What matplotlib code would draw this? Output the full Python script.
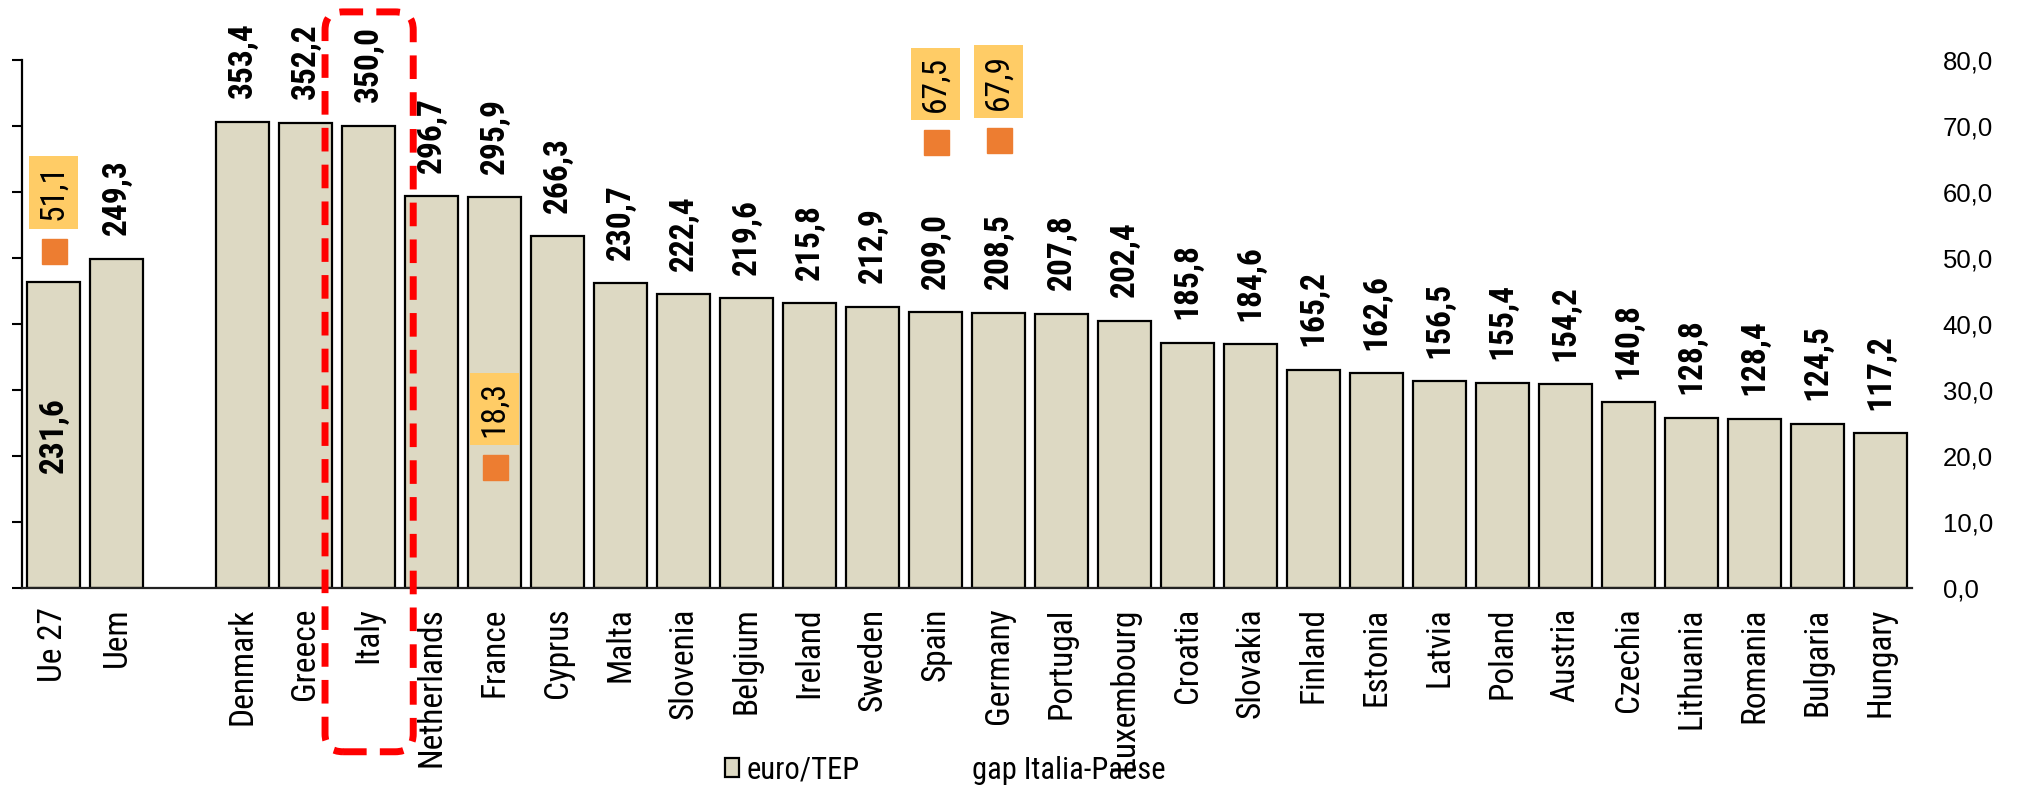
import matplotlib
matplotlib.use('Agg')
import matplotlib.pyplot as plt
import numpy as np
from matplotlib.patches import FancyBboxPatch, Patch
from matplotlib.lines import Line2D
from matplotlib.ticker import FuncFormatter, MultipleLocator
from matplotlib.transforms import IdentityTransform

# data
categories = ['Ue 27', 'Uem', '', 'Denmark', 'Greece', 'Italy', 'Netherlands', 'France',
              'Cyprus', 'Malta', 'Slovenia', 'Belgium', 'Ireland', 'Sweden', 'Spain',
              'Germany', 'Portugal', 'Luxembourg', 'Croatia', 'Slovakia', 'Finland',
              'Estonia', 'Latvia', 'Poland', 'Austria', 'Czechia', 'Lithuania',
              'Romania', 'Bulgaria', 'Hungary']
euro_tep = [231.6, 249.3, None, 353.4, 352.2, 350.0, 296.7, 295.9, 266.3, 230.7, 222.4,
            219.6, 215.8, 212.9, 209.0, 208.5, 207.8, 202.4, 185.8, 184.6, 165.2, 162.6,
            156.5, 155.4, 154.2, 140.8, 128.8, 128.4, 124.5, 117.2]
gap_countries = ['Ue 27', 'France', 'Spain', 'Germany']
gap_values = [51.1, 18.3, 67.5, 67.9]
highlight = 'Italy'

NARROW = ['Roboto Condensed', 'Liberation Sans', 'DejaVu Sans']
REGULAR = ['Liberation Sans', 'DejaVu Sans']
BAR_COLOR = '#DDD9C3'
GAP_COLOR = '#ED7D31'
BOX_COLOR = '#FFCC66'


def fmt(v):
    return '{:.1f}'.format(v).replace('.', ',')


fig = plt.figure(figsize=(20.2, 7.93), dpi=100)
ax = fig.add_axes([22 / 2020, 205 / 793, 1890 / 2020, 528 / 793])
ax2 = ax.twinx()

xs = np.arange(len(categories))
bar_x = [x for x, v in zip(xs, euro_tep) if v is not None]
bar_h = [v for v in euro_tep if v is not None]
ax.bar(bar_x, bar_h, width=0.84, color=BAR_COLOR, edgecolor='black', linewidth=1.6, zorder=2)

ax.set_xlim(-0.5, len(categories) - 0.5)
ax.set_ylim(0, 400)
ax.yaxis.set_major_locator(MultipleLocator(50))
ax.tick_params(axis='y', length=7, width=1.5, labelleft=False, direction='out')
ax.set_xticks(xs)
ax.set_xticklabels(categories, rotation=90, family=NARROW, fontsize=24)
ax.tick_params(axis='x', length=0, pad=14)
for s in ['top', 'right']:
    ax.spines[s].set_visible(False)
ax.spines['left'].set_linewidth(1.6)
ax.spines['bottom'].set_linewidth(1.6)
ax.spines['bottom'].set_color('#222222')

# value labels
for x, v, c in zip(xs, euro_tep, categories):
    if v is None:
        continue
    if c == 'Ue 27':
        ax.text(x, v / 2, fmt(v), rotation=90, ha='center', va='center',
                family=NARROW, fontweight='bold', fontsize=24, zorder=3)
    else:
        ax.annotate(fmt(v), (x, v), xytext=(0, 17), textcoords='offset points',
                    rotation=90, ha='center', va='bottom', family=NARROW,
                    fontweight='bold', fontsize=24)

# gap series on the right axis
gx = [categories.index(c) for c in gap_countries]
ax2.plot(gx, gap_values, ls='none', marker='s', ms=18, color=GAP_COLOR, zorder=3)
for x, v in zip(gx, gap_values):
    ax2.annotate(fmt(v), (x, v), xytext=(0, 42), textcoords='offset points',
                 rotation=90, ha='center', va='center', family=NARROW, fontsize=24,
                 bbox=dict(boxstyle='square,pad=0.25', fc=BOX_COLOR, ec='none'))
ax2.set_ylim(0, 80)
ax2.yaxis.set_major_locator(MultipleLocator(10))
ax2.yaxis.set_major_formatter(FuncFormatter(lambda v, p: fmt(v)))
ax2.tick_params(axis='y', length=0, pad=22, labelsize=18.5)
for lab in ax2.get_yticklabels():
    lab.set_family(REGULAR)
for s in ax2.spines.values():
    s.set_visible(False)

# legend
handles = [Patch(facecolor=BAR_COLOR, edgecolor='black', linewidth=1.6),
           Line2D([], [], ls='none')]
fig.legend(handles, ['euro/TEP', 'gap Italia-Paese'], loc='center',
           bbox_to_anchor=(0.468, 0.029), ncol=2, frameon=False,
           prop={'family': NARROW, 'size': 22}, handlelength=0.45, handleheight=0.6,
           handletextpad=0.25, columnspacing=3.0)

# dashed rounded box around Italy
ix = categories.index(highlight)
x0 = ax.transData.transform((ix - 0.69, 0))[0]
x1 = ax.transData.transform((ix + 0.71, 0))[0]
y0 = fig.transFigure.transform((0, 0.052))[1]
y1 = fig.transFigure.transform((0, 0.985))[1]
box = FancyBboxPatch((x0, y0), x1 - x0, y1 - y0,
                     boxstyle='round,pad=0,rounding_size=18',
                     transform=IdentityTransform(), fill=False, edgecolor='#FF0000',
                     linewidth=5, linestyle=(0, (3.4, 1.9)), zorder=5)
fig.add_artist(box)

fig.savefig('out.png', dpi=100)
